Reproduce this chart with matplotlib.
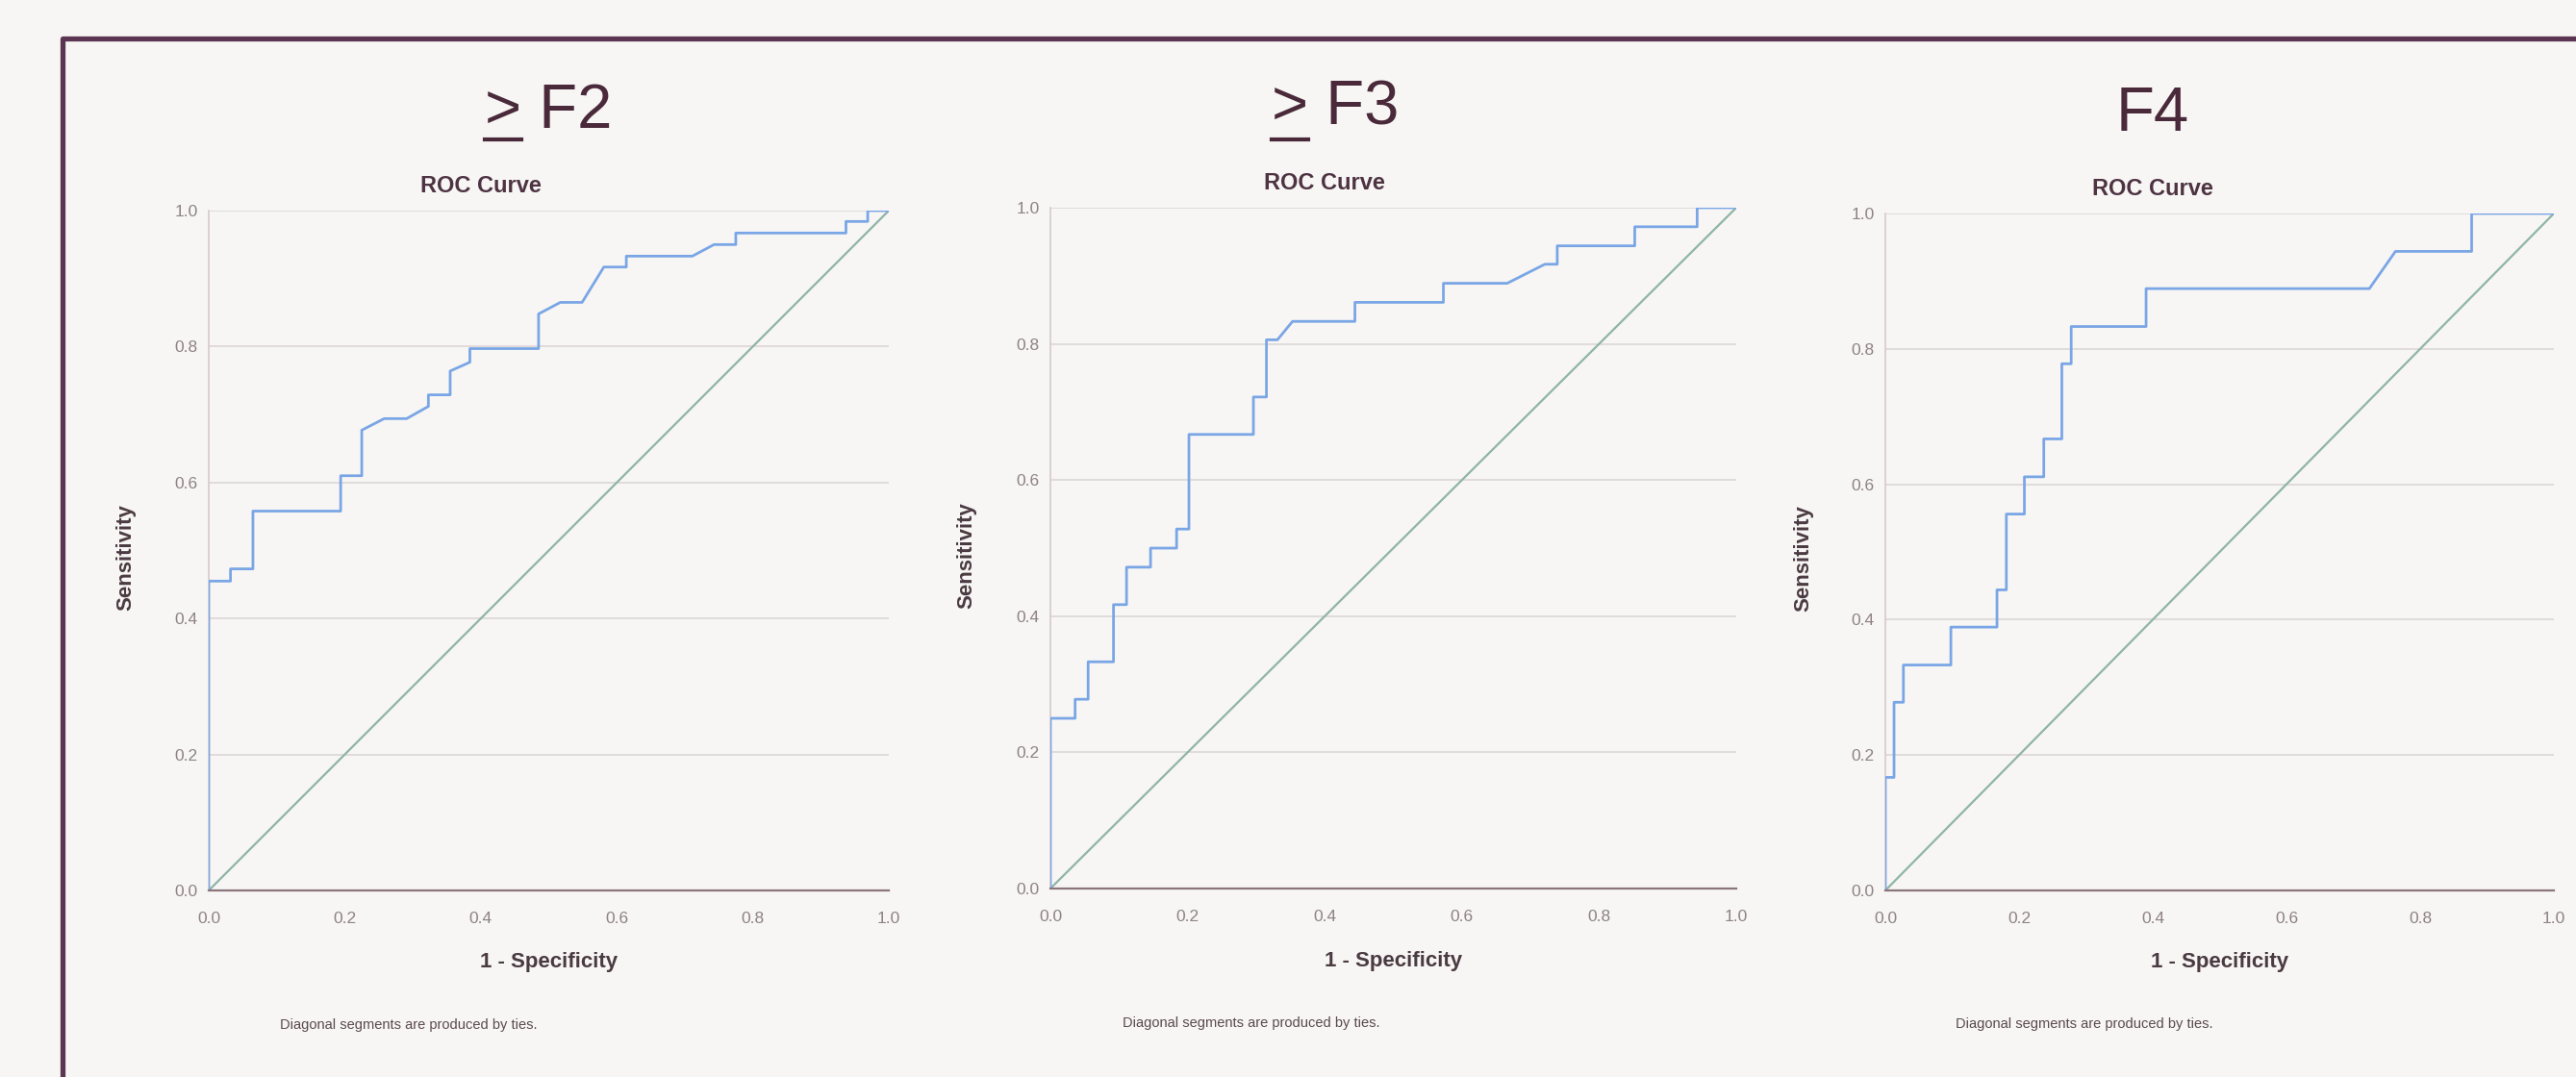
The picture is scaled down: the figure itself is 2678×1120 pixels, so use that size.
import matplotlib
matplotlib.use("Agg")
import matplotlib.pyplot as plt
from matplotlib.lines import Line2D

plt.rcParams['font.family'] = ['Liberation Sans', 'DejaVu Sans']

# ---- data ----
panel_titles = ["F2", "F3", "F4"]
panel_ge = [True, True, False]     # ">" underlined in front of the title

f2_fpr = [0, 0, 0.032, 0.032, 0.065, 0.065, 0.194, 0.194, 0.225, 0.225, 0.258, 0.291,
          0.323, 0.323, 0.355, 0.355, 0.384, 0.384, 0.485, 0.485, 0.517, 0.549, 0.581,
          0.614, 0.614, 0.711, 0.743, 0.775, 0.775, 0.937, 0.937, 0.969, 0.969, 1.0]
f2_tpr = [0, 0.455, 0.455, 0.473, 0.473, 0.558, 0.558, 0.610, 0.610, 0.677, 0.694, 0.694,
          0.712, 0.729, 0.729, 0.764, 0.777, 0.797, 0.797, 0.848, 0.865, 0.865, 0.917,
          0.917, 0.933, 0.933, 0.950, 0.950, 0.967, 0.967, 0.984, 0.984, 1.0, 1.0]

f3_fpr = [0, 0, 0.036, 0.036, 0.055, 0.055, 0.092, 0.092, 0.111, 0.111, 0.146, 0.146,
          0.184, 0.184, 0.202, 0.202, 0.296, 0.296, 0.315, 0.315, 0.331, 0.353, 0.444,
          0.444, 0.573, 0.573, 0.666, 0.721, 0.739, 0.739, 0.852, 0.852, 0.943, 0.943, 1.0]
f3_tpr = [0, 0.250, 0.250, 0.278, 0.278, 0.333, 0.333, 0.417, 0.417, 0.472, 0.472, 0.500,
          0.500, 0.528, 0.528, 0.667, 0.667, 0.722, 0.722, 0.806, 0.806, 0.833, 0.833,
          0.861, 0.861, 0.889, 0.889, 0.917, 0.917, 0.944, 0.944, 0.972, 0.972, 1.0, 1.0]

f4_fpr = [0, 0, 0.013, 0.013, 0.027, 0.027, 0.098, 0.098, 0.167, 0.167, 0.181, 0.181,
          0.208, 0.208, 0.237, 0.237, 0.264, 0.264, 0.278, 0.278, 0.390, 0.390, 0.724,
          0.763, 0.877, 0.877, 1.0]
f4_tpr = [0, 0.167, 0.167, 0.278, 0.278, 0.333, 0.333, 0.389, 0.389, 0.444, 0.444, 0.556,
          0.556, 0.611, 0.611, 0.667, 0.667, 0.778, 0.778, 0.833, 0.833, 0.889, 0.889,
          0.944, 0.944, 1.0, 1.0]

ref_line = [0, 1]
ticks = [0.0, 0.2, 0.4, 0.6, 0.8, 1.0]
tick_labels = ["0.0", "0.2", "0.4", "0.6", "0.8", "1.0"]

curves = [(f2_fpr, f2_tpr), (f3_fpr, f3_tpr), (f4_fpr, f4_tpr)]

# ---- layout ----
W, H = 2678, 1120
bg = "#f7f6f4"
dark = "#4e3342"
fig = plt.figure(figsize=(W / 100, H / 100), dpi=100, facecolor=bg)

# axes boxes in pixels: left, right, top, bottom
boxes = [(217, 924, 219, 926), (1092, 1805, 216, 924), (1960, 2655, 222, 926)]
title_x = [0.50, 0.415, 0.40]

# frame around the panels (runs off right and bottom edges)
fig.add_artist(Line2D([65 / W, 65 / W, 1.0], [0, 1 - 40 / H, 1 - 40 / H],
                      transform=fig.transFigure, color="#5b3552", lw=3.8))

renderer = fig.canvas.get_renderer()

for i, (l, r, t, b) in enumerate(boxes):
    ax = fig.add_axes([l / W, 1 - b / H, (r - l) / W, (b - t) / H])
    ax.set_facecolor(bg)
    fpr, tpr = curves[i]
    ax.plot(ref_line, ref_line, color="#8fb4a9", lw=1.6, zorder=2)
    ax.plot(fpr, tpr, color="#7aa6e6", lw=2.0, zorder=3)
    ax.set_xlim(0, 1)
    ax.set_ylim(0, 1)
    ax.set_xticks(ticks)
    ax.set_xticklabels(tick_labels)
    ax.set_yticks(ticks)
    ax.set_yticklabels(tick_labels)
    ax.tick_params(length=0, labelsize=12.5, labelcolor="#8e8286")
    ax.tick_params(axis="x", pad=16)
    ax.tick_params(axis="y", pad=8)
    ax.grid(axis="y", color="#ddd6d7", lw=1.2)
    for s in ["top", "right"]:
        ax.spines[s].set_visible(False)
    ax.spines["left"].set_color("#d6c9cc")
    ax.spines["left"].set_linewidth(1.2)
    ax.spines["bottom"].set_color("#8c757c")
    ax.spines["bottom"].set_linewidth(1.6)
    ax.spines["bottom"].set_zorder(4)

    ax.text(-0.122, 0.49, "Sensitivity", rotation=90, ha="center", va="center",
            fontsize=16, fontweight="bold", color="#4a3a42", transform=ax.transAxes)
    ax.text(0.5, -0.106, "1 - Specificity", ha="center", va="center",
            fontsize=16, fontweight="bold", color="#4a3a42", transform=ax.transAxes)
    ax.text(0.105, -0.198, "Diagonal segments are produced by ties.", ha="left",
            va="center", fontsize=10.5, color="#5a4a50", transform=ax.transAxes)
    ax.text(0.40, 1.027, "ROC Curve", ha="center", va="baseline", fontsize=17,
            fontweight="bold", color=dark, transform=ax.transAxes)

    label = ("> " if panel_ge[i] else "") + panel_titles[i]
    tt = ax.text(title_x[i], 1.122, label, ha="center", va="baseline", fontsize=47,
                 color="#4a2a3a", transform=ax.transAxes)
    if panel_ge[i]:
        # underline the ">" so it reads as "greater or equal"
        bb = tt.get_window_extent(renderer)
        gt = fig.text(0, 0, ">", fontsize=47)
        gw = gt.get_window_extent(renderer).width
        gt.remove()
        y_line = (H - 145) / H
        fig.add_artist(Line2D([bb.x0 / W, (bb.x0 + gw) / W], [y_line, y_line],
                              transform=fig.transFigure, color="#4a2a3a", lw=3))

fig.savefig("out.png", dpi=100, facecolor=bg)
